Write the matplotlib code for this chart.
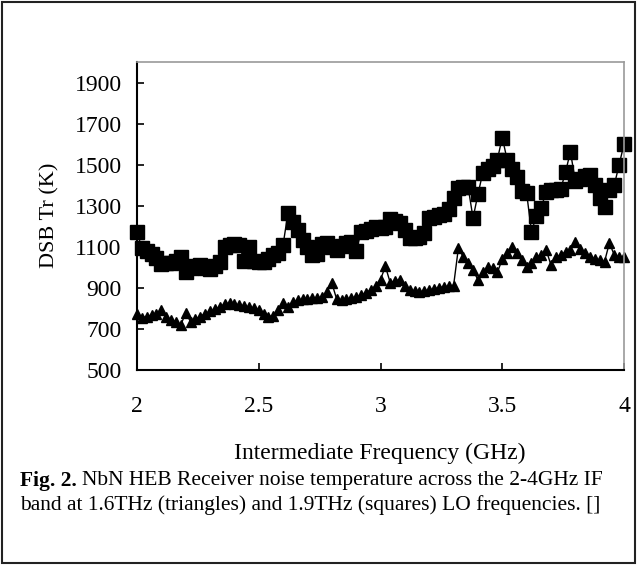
import numpy as np
import matplotlib
matplotlib.use('Agg')
import matplotlib.pyplot as plt
from matplotlib.patches import Rectangle

plt.rcParams['font.family'] = ['Liberation Serif', 'DejaVu Serif']

# IF frequency grid (GHz)
freq = np.round(np.arange(2.0, 4.001, 0.02), 2)

# 1.9 THz LO (squares)
tr_19 = [1170, 1095, 1080, 1065, 1045, 1015, 1020, 1022, 1030, 1050,
         975, 995, 1005, 1010, 998, 990, 1005, 1025, 1100, 1110,
         1115, 1110, 1030, 1100, 1030, 1025, 1025, 1040, 1060, 1071,
         1110, 1265, 1220, 1180, 1134, 1100, 1060, 1065, 1115, 1120,
         1100, 1085, 1105, 1120, 1124, 1080, 1170, 1175, 1185, 1198,
         1190, 1198, 1235, 1225, 1215, 1180, 1145, 1145, 1150, 1165,
         1240, 1245, 1255, 1260, 1285, 1340, 1385, 1390, 1390, 1240,
         1355, 1460, 1480, 1495, 1525, 1632, 1525, 1480, 1440, 1370,
         1363, 1173, 1250, 1290, 1368, 1375, 1378, 1380, 1465, 1563,
         1420, 1430, 1445, 1451, 1400, 1339, 1295, 1378, 1400, 1500,
         1600]

# 1.6 THz LO (triangles)
tr_16 = [775, 755, 760, 768, 775, 793, 760, 745, 735, 720,
         778, 735, 750, 760, 775, 785, 795, 807, 820, 827,
         820, 815, 810, 807, 800, 793, 775, 760, 765, 790,
         827, 805, 830, 840, 845, 845, 850, 851, 855, 880,
         924, 845, 841, 845, 850, 856, 865, 876, 890, 910,
         940, 1005, 925, 935, 939, 910, 890, 885, 880, 885,
         890, 895, 900, 905, 908, 910, 1095, 1050, 1020, 985,
         940, 975, 1000, 995, 975, 1040, 1070, 1100, 1070, 1035,
         1000, 1020, 1050, 1060, 1085, 1012, 1050, 1060, 1075, 1085,
         1124, 1090, 1070, 1050, 1040, 1035, 1027, 1119, 1060, 1050,
         1050]

xticks = [2, 2.5, 3, 3.5, 4]
xticklabels = ['2', '2.5', '3', '3.5', '4']
yticks = [500, 700, 900, 1100, 1300, 1500, 1700, 1900]

fig = plt.figure(figsize=(6.37, 5.65), dpi=100)
W, H = 637, 565

ax = fig.add_axes([137 / W, 1 - 370 / H, (624 - 137) / W, (370 - 62) / H])
ax.plot(freq, tr_19, color='black', lw=1, marker='s', ms=10, clip_on=False)
ax.plot(freq, tr_16, color='black', lw=1, marker='^', ms=7, clip_on=False)

ax.set_xlim(2, 4)
ax.set_ylim(500, 2000)
ax.set_xticks(xticks)
ax.set_xticklabels(xticklabels)
ax.set_yticks(yticks)
ax.tick_params(axis='both', direction='in', length=5, width=1.2, labelsize=17)
ax.tick_params(axis='x', pad=19)
ax.tick_params(axis='y', pad=11)
for s in ['left', 'bottom']:
    ax.spines[s].set_linewidth(1.5)
for s in ['top', 'right']:
    ax.spines[s].set_color('#9a9a9a')
    ax.spines[s].set_linewidth(1.2)

fig.text(380 / W, 1 - 453 / H, 'Intermediate Frequency (GHz)', ha='center', va='center', fontsize=17)
fig.text(50 / W, 1 - 215 / H, 'DSB Tr (K)', ha='center', va='center', rotation=90, fontsize=16)

# caption with bold lead-in
fig.canvas.draw()
r = fig.canvas.get_renderer()
t1 = fig.text(20 / W, 1 - 481 / H, 'Fig. 2.', fontweight='bold', fontsize=15.5, va='center')
bb = t1.get_window_extent(renderer=r)
fig.text(bb.x1 / W + 5 / W, 1 - 481 / H, 'NbN HEB Receiver noise temperature across the 2-4GHz IF',
         fontsize=15.5, va='center')
fig.text(20 / W, 1 - 505 / H, 'band at 1.6THz (triangles) and 1.9THz (squares) LO frequencies. []',
         fontsize=15.5, va='center')

fig.patches.append(Rectangle((2 / W, 2 / H), 633 / W, 561 / H, transform=fig.transFigure,
                             fill=False, edgecolor='#222222', lw=1.5))

fig.savefig('out.png', dpi=100)
